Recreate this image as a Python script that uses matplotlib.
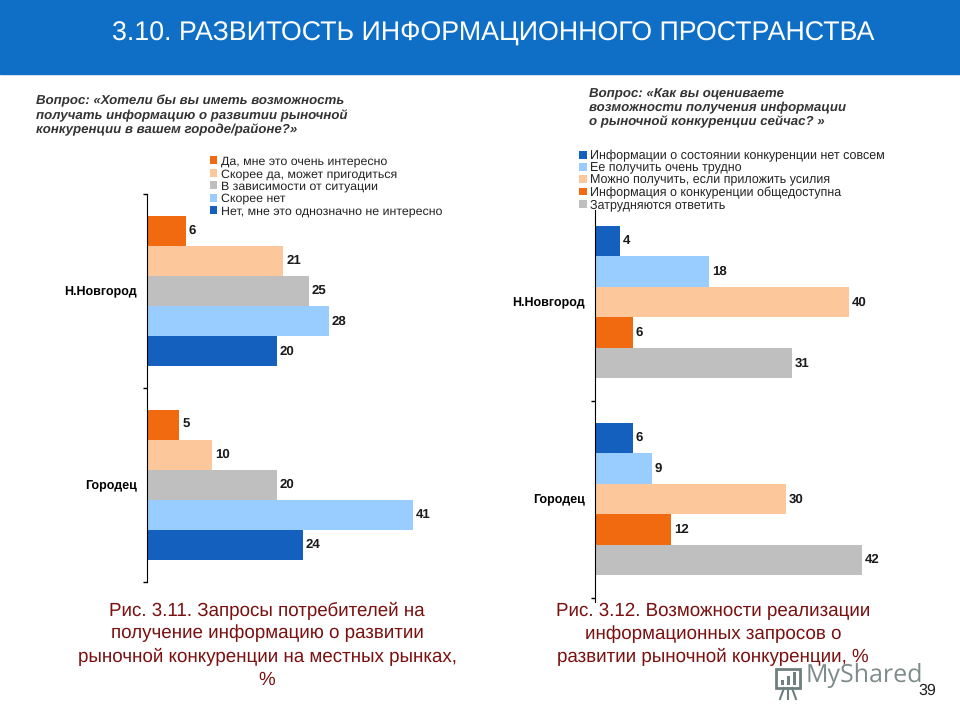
import matplotlib
matplotlib.use('Agg')
import matplotlib.pyplot as plt
import numpy as np
from matplotlib.lines import Line2D
from matplotlib.patches import Rectangle

plt.rcParams['font.family'] = ['Liberation Sans', 'DejaVu Sans']
plt.rcParams['text.hinting'] = 'no_hinting'

# данные
cities = ['Н.Новгород', 'Городец']

left_labels = ['Да, мне это очень интересно', 'Скорее да, может пригодиться',
               'В зависимости от ситуации', 'Скорее нет',
               'Нет, мне это однозначно не интересно']
left_nn = [6, 21, 25, 28, 20]
left_gor = [5, 10, 20, 41, 24]
left_colors = ['#F26A10', '#FCC89B', '#BFBFBF', '#99CCFF', '#1360BE']

right_labels = ['Информации о состоянии конкуренции нет совсем', 'Ее получить очень трудно',
                'Можно получить, если приложить усилия', 'Информация о конкуренции общедоступна',
                'Затрудняются ответить']
right_nn = [4, 18, 40, 6, 31]
right_gor = [6, 9, 30, 12, 42]
right_colors = ['#1360BE', '#99CCFF', '#FCC89B', '#F26A10', '#BFBFBF']

W, H = 960, 720
fig = plt.figure(figsize=(9.6, 7.2), dpi=100, facecolor='white')


def box(x0, y0, x1, y1):
    # пиксели картинки -> доли фигуры
    return [x0 / W, 1 - y1 / H, (x1 - x0) / W, (y1 - y0) / H]


def chart(pos, xmax, ylim, ticks, bar_h, nn, gor, labels, colors, legend_xy, leg_size, leg_space):
    ax = fig.add_axes(box(*pos))
    for i in range(5):
        vals = [nn[i], gor[i]]
        ys = np.arange(2) + (i - 2) * bar_h
        bars = ax.barh(ys, vals, height=bar_h, color=colors[i], label=labels[i])
        ax.bar_label(bars, padding=2, fontsize=9.5, fontweight='bold', color='#1a1a1a')
    ax.set_ylim(*ylim)
    ax.set_xlim(0, xmax)
    ax.set_yticks([0, 1])
    ax.set_yticklabels(cities, fontsize=9, fontweight='bold')
    ax.set_yticks(ticks, minor=True)
    ax.tick_params(axis='y', which='major', length=0, pad=7.5)
    ax.tick_params(axis='y', which='minor', length=3, width=1)
    ax.xaxis.set_visible(False)
    for s in ['top', 'right', 'bottom']:
        ax.spines[s].set_visible(False)
    ax.patch.set_alpha(0)
    fig.legend(loc='upper left', bbox_to_anchor=(legend_xy[0] / W, 1 - legend_xy[1] / H),
               handles=ax.get_legend_handles_labels()[0], labels=labels, frameon=False,
               fontsize=leg_size, handlelength=0.6, handleheight=0.6, handletextpad=0.25,
               labelspacing=leg_space, borderpad=0, borderaxespad=0, labelcolor='#222222')
    return ax


# шапка
fig.add_artist(Rectangle((0, 1 - 74 / H), 1, 74 / H, transform=fig.transFigure,
                         color='#0F6FC6', zorder=0))
fig.text(112 / W, 1 - 34 / H, '3.10. РАЗВИТОСТЬ ИНФОРМАЦИОННОГО ПРОСТРАНСТВА',
         color='white', fontsize=19.25, va='center', ha='left')

# вопросы
fig.text(36 / W, 1 - 115.5 / H,
         'Вопрос: «Хотели бы вы иметь возможность\nполучать информацию о развитии рыночной\n'
         'конкуренции в вашем городе/районе?»',
         fontsize=9.5, style='italic', fontweight='bold', color='#333333',
         va='center', ha='left', linespacing=1.18)
fig.text(589 / W, 1 - 108 / H,
         'Вопрос: «Как вы оцениваете\nвозможности получения информации\n'
         'о рыночной конкуренции сейчас? »',
         fontsize=9.5, style='italic', fontweight='bold', color='#333333',
         va='center', ha='left', linespacing=1.18)

chart((147, 194, 420, 582), 273 / 6.49, (1.5, -0.5), [-0.5, 0.5, 1.5], 0.155,
      left_nn, left_gor, left_labels, left_colors, (210, 156), 8.9, 0.1)
chart((595, 209.5, 880, 601.5), 285 / 6.357, (1.52, -0.47), [0.5, 1.5], 0.155,
      right_nn, right_gor, right_labels, right_colors, (579, 150), 9, 0.0)

# подписи рисунков
fig.text(267 / W, 1 - 645 / H,
         'Рис. 3.11. Запросы потребителей на\nполучение информацию о развитии\n'
         'рыночной конкуренции на местных рынках,\n%',
         color='#7A1010', fontsize=13.5, ha='center', va='center', linespacing=1.37)
fig.text(713 / W, 1 - 634.5 / H,
         'Рис. 3.12. Возможности реализации\nинформационных запросов о\n'
         'развитии рыночной конкуренции, %',
         color='#7A1010', fontsize=13.5, ha='center', va='center', linespacing=1.37)

# водяной знак: значок и надпись
wm = '#6F7F7F'
fig.add_artist(Rectangle((776 / W, 1 - 688 / H), 24 / W, 19 / H, transform=fig.transFigure,
                         fill=False, edgecolor=wm, linewidth=2))
for bx, bh in zip([781, 787, 793], [5, 9, 13]):
    fig.add_artist(Rectangle((bx / W, 1 - 685 / H), 3 / W, bh / H, transform=fig.transFigure,
                             color=wm, linewidth=0))
for x0, x1 in [(784, 780), (788, 788), (792, 796)]:
    fig.add_artist(Line2D([x0 / W, x1 / W], [1 - 688 / H, 1 - 699 / H],
                          transform=fig.transFigure, color=wm, linewidth=1.5))
fig.text(806 / W, 1 - 675 / H, 'MyShared', color=wm, fontsize=18, family='Open Sans',
         ha='left', va='center', alpha=0.9)
fig.text(918 / W, 1 - 691 / H, '39', color='#222222', fontsize=11.5, ha='left', va='center')

fig.savefig('out.png', dpi=100)
